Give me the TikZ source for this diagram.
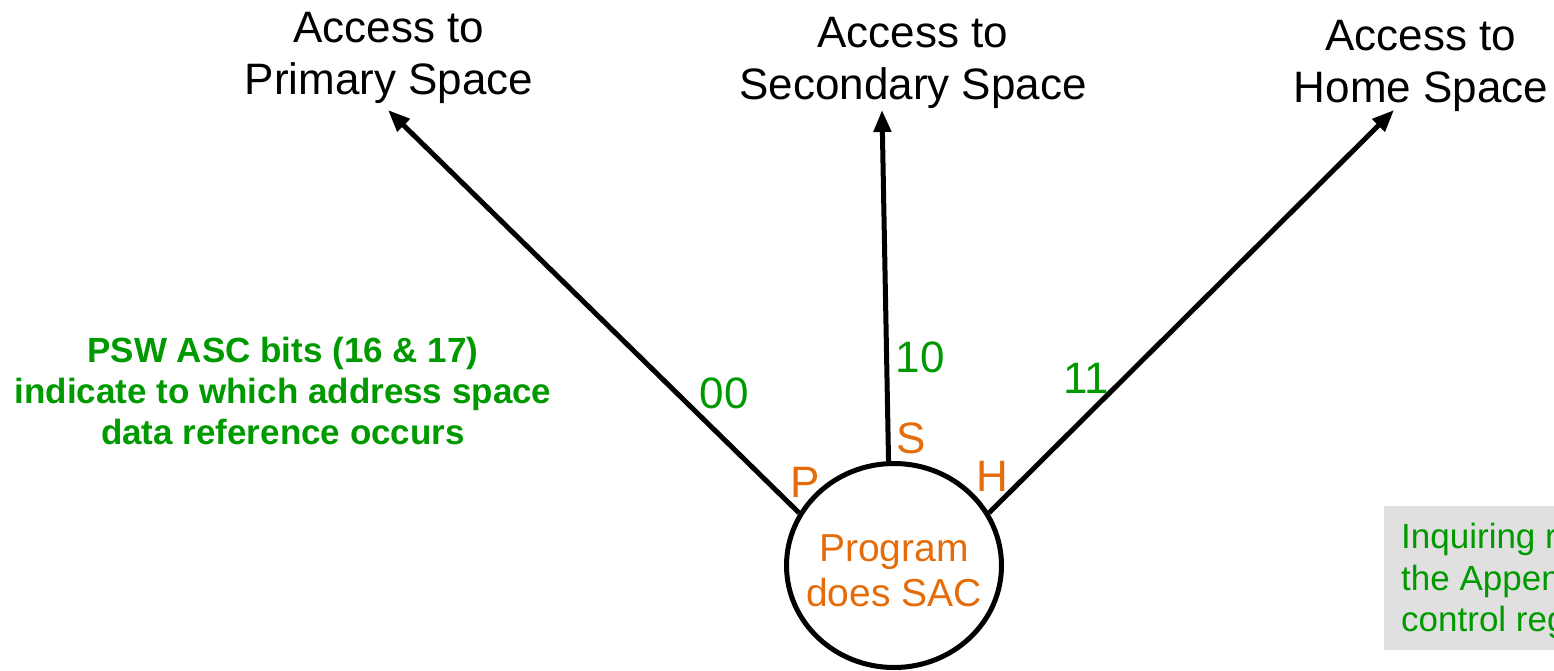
\documentclass[tikz,border=0pt]{standalone}
\usepackage{fontspec}
\setmainfont{Liberation Sans}
\usetikzlibrary{arrows.meta,shapes.geometric}
\definecolor{ascgreen}{RGB}{0,153,0}
\definecolor{sacorange}{RGB}{228,108,10}
\definecolor{notegrey}{RGB}{224,224,224}
\tikzset{
  spacelabel/.style={align=center, font=\fontsize{44}{52}\selectfont, inner sep=0pt},
  bitlabel/.style={text=ascgreen, font=\fontsize{44}{50}\selectfont, inner sep=0pt},
  letterlabel/.style={text=sacorange, font=\fontsize{44}{50}\selectfont, inner sep=0pt},
  pathline/.style={line width=5pt, -{Triangle[length=22pt,width=17pt]}},
}
\begin{document}
\begin{tikzpicture}[x=1pt,y=-1pt]
\useasboundingbox (0,0) rectangle (1554,671);
\clip (0,0) rectangle (1554,671);

% address space targets
\node[spacelabel] (prim) at (389,58) {Access to\\Primary Space};
\node[spacelabel] (sec) at (913,63) {Access to\\Secondary Space};
\node[spacelabel] (home) at (1421,66) {Access to\\Home Space};
\coordinate (tipP) at (388,110);
\coordinate (tipS) at (882,110);
\coordinate (tipH) at (1394,110);

% program issuing SAC
\node[ellipse, draw, line width=5pt, minimum width=215pt, minimum height=204pt,
      inner sep=0pt] (prog) at (894,565.5) {};
\node[text=sacorange, align=center, inner sep=0pt,
      font=\fontsize{39}{45}\selectfont] (progtext) at (894,571) {Program\\does SAC};

\draw[pathline] (prog.151) -- (tipP);
\draw[pathline] (prog.93) -- (tipS);
\draw[pathline] (prog.29) -- (tipH);

% mode letters and ASC bit values
\node[letterlabel] (lp) at (805,482) {P};
\node[letterlabel] (ls) at (911,438) {S};
\node[letterlabel] (lh) at (992,476) {H};
\node[bitlabel] (b00) at (724,393) {00};
\node[bitlabel] (b10) at (920,357) {10};
\node[bitlabel] (b11) at (1086,378) {11};

% explanation
\node[align=center, text=ascgreen, inner sep=0pt,
      font=\bfseries\fontsize{35}{41}\selectfont] (note) at (283,391)
      {PSW ASC bits (16 \& 17)\\indicate to which address space\\data reference occurs};

% side note box
\fill[notegrey] (1384,506) rectangle (1600,650);
\node[anchor=west, align=left, text=ascgreen, inner sep=0pt,
      font=\fontsize{35}{41.5}\selectfont] (side) at (1401,581)
      {Inquiring r\\the Appen\\control reg};
\end{tikzpicture}
\end{document}
